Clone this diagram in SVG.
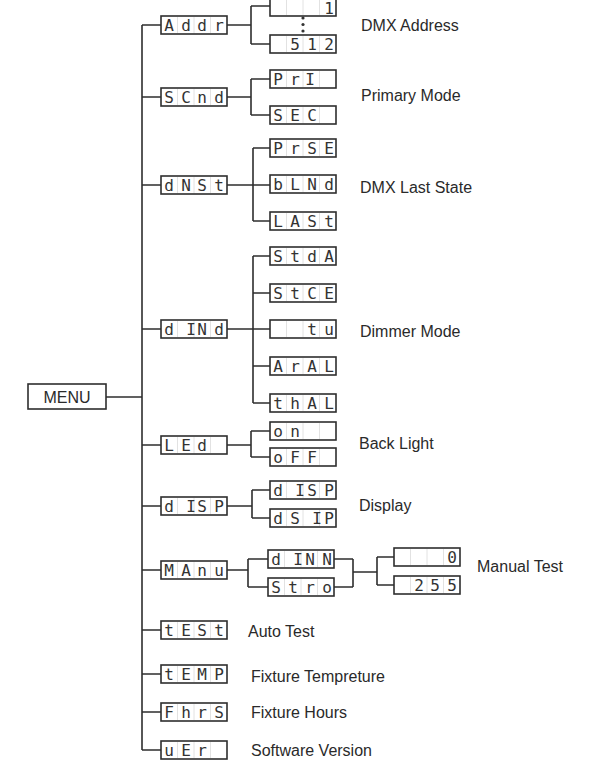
<svg xmlns="http://www.w3.org/2000/svg" xmlns:xlink="http://www.w3.org/1999/xlink" width="597" height="766" viewBox="0 0 597 766">
<style>
.ln{fill:none;stroke:#2e2e2e;stroke-width:1.6}
.lbl{font-family:"Liberation Sans",Arial,sans-serif;font-size:16px;fill:#2a2a2a}
.seg{font-family:"DejaVu Sans Mono","Liberation Mono",monospace;font-size:16px;fill:#333;text-anchor:middle}
.box{fill:#fff;stroke:#2e2e2e;stroke-width:1.6}
.div{stroke:#e2e2e2;stroke-width:1}
</style>
<defs>
<g id="lcd">
<rect class="box" x="0" y="0" width="66" height="18"/>
<line class="div" x1="16.5" y1="1" x2="16.5" y2="17"/>
<line class="div" x1="33" y1="1" x2="33" y2="17"/>
<line class="div" x1="49.5" y1="1" x2="49.5" y2="17"/>
</g>
</defs>
<rect width="597" height="766" fill="#fff"/>
<g id="connectors">
<path class="ln" d="M106 397H142M142 25V750M142 25H161M142 97H161M142 185H161M142 329H161M142 445H161M142 506H161M142 570H161M142 630H161M142 674H161M142 712H161M142 750H161"/>
<path class="ln" d="M227 25H251M251 6V44M251 6H270M251 44H270"/>
<path class="ln" d="M227 97H251M251 79V115M251 79H270M251 115H270"/>
<path class="ln" d="M227 185H270M253 148V221M253 148H270M253 221H270"/>
<path class="ln" d="M227 329H270M253 256V403M253 256H270M253 293H270M253 366H270M253 403H270"/>
<path class="ln" d="M227 445H251M251 431V457M251 431H270M251 457H270"/>
<path class="ln" d="M227 506H252M252 490V518M252 490H270M252 518H270"/>
<path class="ln" d="M227 570H248M248 559V587M248 559H268M248 587H268M334 559H353M334 587H353M353 559V587M353 572H377M377 557V585M377 557H394M377 585H394"/>
<g fill="#333"><circle cx="303" cy="18" r="1.6"/><circle cx="303" cy="24.5" r="1.6"/><circle cx="303" cy="31" r="1.6"/></g>
</g>
<g id="menu"><rect x="28" y="384" width="78" height="25" fill="#fff" stroke="#2e2e2e" stroke-width="1.6"/><text class="lbl" x="67" y="403" text-anchor="middle">MENU</text></g>
<g id="addr"><use xlink:href="#lcd" x="161" y="16"/><text class="seg" x="169 186 202 219" y="31">Addr</text></g>
<g id="addr-1"><use xlink:href="#lcd" x="270" y="-2"/><text class="seg" x="329" y="14" font-size="14">1</text></g>
<g id="addr-512"><use xlink:href="#lcd" x="270" y="35"/><text class="seg" x="295 312 329" y="50">512</text></g>
<g id="scnd"><use xlink:href="#lcd" x="161" y="88"/><text class="seg" x="169 186 202 219" y="103">SCnd</text></g>
<g id="pri"><use xlink:href="#lcd" x="270" y="70"/><text class="seg" x="278 295 310" y="85">PrI</text></g>
<g id="sec"><use xlink:href="#lcd" x="270" y="106"/><text class="seg" x="278 295 312" y="121">SEC</text></g>
<g id="dnst"><use xlink:href="#lcd" x="161" y="176"/><text class="seg" x="169 186 202 219" y="191">dNSt</text></g>
<g id="prse"><use xlink:href="#lcd" x="270" y="139"/><text class="seg" x="278 295 312 329" y="154">PrSE</text></g>
<g id="blnd"><use xlink:href="#lcd" x="270" y="175"/><text class="seg" x="278 295 312 329" y="190">bLNd</text></g>
<g id="last"><use xlink:href="#lcd" x="270" y="212"/><text class="seg" x="278 295 312 329" y="227">LASt</text></g>
<g id="dind"><use xlink:href="#lcd" x="161" y="320"/><text class="seg" x="169 191 202 219" y="335">dINd</text></g>
<g id="stda"><use xlink:href="#lcd" x="270" y="247"/><text class="seg" x="278 295 312 329" y="262">StdA</text></g>
<g id="stce"><use xlink:href="#lcd" x="270" y="284"/><text class="seg" x="278 295 312 329" y="299">StCE</text></g>
<g id="tu"><use xlink:href="#lcd" x="270" y="320"/><text class="seg" x="312 329" y="335">tu</text></g>
<g id="aral"><use xlink:href="#lcd" x="270" y="357"/><text class="seg" x="278 295 312 329" y="372">ArAL</text></g>
<g id="thal"><use xlink:href="#lcd" x="270" y="394"/><text class="seg" x="278 295 312 329" y="409">thAL</text></g>
<g id="led"><use xlink:href="#lcd" x="161" y="436"/><text class="seg" x="169 186 202" y="451">LEd</text></g>
<g id="on"><use xlink:href="#lcd" x="270" y="422"/><text class="seg" x="278 295" y="437">on</text></g>
<g id="off"><use xlink:href="#lcd" x="270" y="448"/><text class="seg" x="278 295 312" y="463">oFF</text></g>
<g id="disp"><use xlink:href="#lcd" x="161" y="497"/><text class="seg" x="169 191 202 219" y="512">dISP</text></g>
<g id="disp-1"><use xlink:href="#lcd" x="270" y="481"/><text class="seg" x="278 300 312 329" y="496">dISP</text></g>
<g id="dsip"><use xlink:href="#lcd" x="270" y="509"/><text class="seg" x="278 295 317 329" y="524">dSIP</text></g>
<g id="manu"><use xlink:href="#lcd" x="161" y="561"/><text class="seg" x="169 186 202 219" y="576">MAnu</text></g>
<g id="dinn"><use xlink:href="#lcd" x="268" y="550"/><text class="seg" x="276 298 310 327" y="565">dINN</text></g>
<g id="stro"><use xlink:href="#lcd" x="268" y="578"/><text class="seg" x="276 293 310 327" y="593">Stro</text></g>
<g id="v0"><use xlink:href="#lcd" x="394" y="548"/><text class="seg" x="452" y="563">0</text></g>
<g id="v255"><use xlink:href="#lcd" x="394" y="576"/><text class="seg" x="419 435 452" y="591">255</text></g>
<g id="test"><use xlink:href="#lcd" x="161" y="621"/><text class="seg" x="169 186 202 219" y="636">tESt</text></g>
<g id="temp"><use xlink:href="#lcd" x="161" y="665"/><text class="seg" x="169 186 202 219" y="680">tEMP</text></g>
<g id="fhrs"><use xlink:href="#lcd" x="161" y="703"/><text class="seg" x="169 186 202 219" y="718">FhrS</text></g>
<g id="uer"><use xlink:href="#lcd" x="161" y="741"/><text class="seg" x="169 186 202" y="756">uEr</text></g>
<g id="labels">
<text class="lbl" x="361" y="31">DMX Address</text>
<text class="lbl" x="361" y="101">Primary Mode</text>
<text class="lbl" x="360" y="193">DMX Last State</text>
<text class="lbl" x="360" y="337">Dimmer Mode</text>
<text class="lbl" x="359" y="449">Back Light</text>
<text class="lbl" x="359" y="511">Display</text>
<text class="lbl" x="477" y="572">Manual Test</text>
<text class="lbl" x="248" y="637">Auto Test</text>
<text class="lbl" x="251" y="682">Fixture Tempreture</text>
<text class="lbl" x="251" y="718">Fixture Hours</text>
<text class="lbl" x="251" y="756">Software Version</text>
</g>
</svg>
